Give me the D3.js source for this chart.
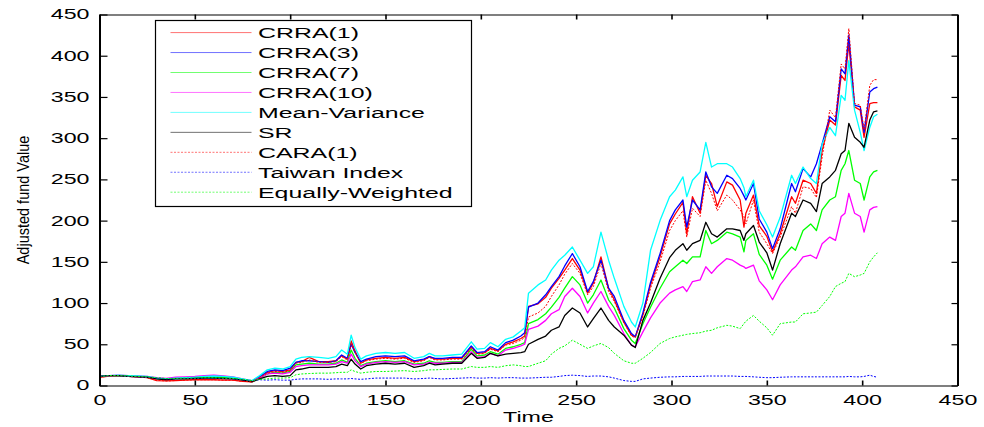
<!DOCTYPE html>
<html>
<head>
<meta charset="utf-8">
<script src="https://cdn.jsdelivr.net/npm/d3@7"></script>
<style>
  html, body { margin: 0; padding: 0; background: #fff; }
  svg { display: block; font-family: "Liberation Sans", Arial, sans-serif; }
</style>
</head>
<body>
<svg id="chart" width="984" height="427"></svg>
<script>
// Trading days (x positions of the samples)
const time = [
  0,5,10,15,20,25,30,35,40,45,50,55,60,65,70,75,80,
  84,88,92,96,100,103,106,110,115,120,124,
  127,130,132,134,137,140,
  145,150,155,160,165,170,173,176,180,185,190,195,198,202,205,209,213,217,221,223,
  225,230,234,237,241,244,248,252,256,259,
  263,267,270,275,279,281,285,289,294,299,
  302,306,308,311,315,318,321,324,329,332,
  336,338,339,343,346,350,353,357,363,365,
  369,373,376,379,383,386,389,391,393,396,
  399,401,404,406,408
];

// Adjusted fund value of each strategy
const crra1 = [
  10,11.5,12,11,10.5,9.5,6,5.5,6,6.5,7,7,7,6.5,6.5,5,4.5,
  10,16,18,17,19,28,29,34,29,29,30,
  36,32,54,42,27,31,
  33,34,33,34,29,31,35,32,32,33,33,47,39,40,45,42,50,53,57,60,
  96,99,107,118,130,140,154,140,112,124,
  156,118,104,77,61,59,86,122,156,196,
  208,222,184,229,209,255,245,217,247,243,
  225,192,209,231,194,181,162,184,229,221,
  249,245,233,285,322,316,376,370,415,338,
  334,301,342,343,343
];
const crra3 = [
  11,12,12,11.5,11,10.5,8.5,7.5,9,9,10,11,11,10.5,9.5,7.5,5.5,
  11,17,19,18,21,28,30,30,29,28,30,
  37,33,50,40,29,32,
  35,36,35,36,30,32,35,33,33,34,34,48,40,41,47,43,52,55,60,64,
  95,100,110,120,132,145,160,144,114,126,
  152,118,108,79,63,59,88,125,160,200,
  213,225,192,225,213,259,241,233,255,251,
  239,230,225,245,202,186,166,190,245,235,
  263,253,269,293,326,320,384,378,425,340,
  338,307,356,360,362
];
const crra7 = [
  11,12,12,11.5,11,10,8.5,7.5,8.5,8.5,9,9.5,10,9.5,9,7,5,
  9,14,16,15,17,25,26,27,26,26,27,
  31,28,43,33,24,27,
  29,30,29,30,26,27,30,28,28,29,29,44,36,37,41,38,45,47,50,52,
  75,80,87,95,107,118,132,122,100,110,
  128,104,94,69,55,51,75,95,118,138,
  144,152,148,156,156,188,172,176,186,184,
  180,162,176,184,159,146,129,152,168,164,
  188,196,188,213,225,229,261,269,285,249,
  245,225,253,259,261
];
const crra10 = [
  11,12,12.5,12,11.5,11,9.5,8.5,10,10.5,11,12,12.5,11.5,10.5,8,5.5,
  9,14,15,14,16,23,24,25,25,25,26,
  29,27,38,30,23,26,
  28,29,28,29,25,26,28,27,27,28,28,41,34,35,39,36,43,45,48,50,
  68,72,79,87,92,108,118,108,88,100,
  114,96,85,63,49,47,65,82,100,112,
  116,120,114,126,128,144,136,144,154,152,
  146,144,142,146,127,116,104,122,140,144,
  156,158,154,172,180,176,205,209,233,209,
  205,186,213,216,217
];
const meanVariance = [
  11,12,12.5,12,11.5,11,9,8,9,9.5,10,11,11.5,11,10,8,6,
  12,19,21,20,23,32,34,35,34,33,35,
  43,38,61,46,32,36,
  39,40,39,40,33,35,39,36,36,37,38,53,44,45,52,47,56,59,66,70,
  112,122,128,140,152,158,168,152,136,144,
  186,152,130,96,77,71,100,164,200,229,
  237,253,229,249,259,295,265,269,269,265,
  251,240,229,249,212,195,180,204,255,245,
  265,251,245,293,313,303,352,346,394,334,
  307,285,313,326,329
];
const sharpe = [
  11,12,12,11,10.5,10,8,7,8,8,8.5,9,9,8.5,8,6.5,4.5,
  8,11,12,11,12,19,20,22,22,22,23,
  26,24,32,26,20,24,
  26,27,26,27,22,24,27,25,26,27,27,39,33,34,39,36,38,39,40,41,
  50,56,60,67,71,85,94,88,71,81,
  94,79,71,61,49,46,79,100,130,155,
  164,172,164,172,176,198,184,180,190,190,
  188,176,184,194,174,161,140,172,209,205,
  225,221,211,245,253,261,281,285,318,301,
  295,289,322,332,333
];
const cara1 = [
  10,11.5,12,11,10.5,9.5,6.5,5.5,6,6.5,7,7,7,6.5,6.5,5,4.5,
  9.5,15,17,16,18,27,28,31,28,28,29,
  35,31,50,40,27,30,
  32,33,32,33,28,30,34,31,31,32,32,45,38,39,44,41,49,51,55,58,
  83,88,96,108,122,135,148,136,110,120,
  148,114,102,76,60,58,84,118,150,188,
  200,212,180,215,205,249,233,212,231,225,
  213,205,196,225,186,172,160,180,217,209,
  241,239,228,277,334,325,390,384,433,342,
  340,310,364,371,371
];
const taiwanIndex = [
  11,12,12,11,10.5,10,9,8,8,8.5,8.5,9,9,8.5,8,7,6,
  7,6.5,7,6.5,6.5,7.5,8,8,8,7.5,8,
  8,8,8.5,8,7.5,8,
  9,9,9,9,8,8.5,9,8.5,8,8.5,9,9.5,9,9,9.5,9,9.5,9.5,9,9,
  9,9.5,10,10,11,12,12.5,12,11,11.5,
  11.5,10.5,9,6,5,5,8,9,10,10.5,
  10.5,11,11,11,11,11.5,11.5,11.5,11.5,11.5,
  11,11,11,10.5,10,9.5,9.5,10,10.5,10.5,
  10.5,10.5,10.5,10.5,10.5,10.5,10.5,10.5,11,10.5,
  10.5,11,12.5,11,10
];
const equallyWeighted = [
  11,12,12,11.5,11,10.5,9.5,8.5,8.5,9,9,9.5,9.5,9,8.5,7.5,6,
  7.5,8,9,9,9.5,13,14,14.5,15,15,15.5,
  16,16,19,17,15,16,
  17,17,17.5,18,17,18,19,19,19.5,20,20,23,22,22,23,22,24,25,24,23,
  23,27,30,38,45,48,55,50,45,48,
  51,46,39,30,27,27,33,40,51,57,
  59,61,62,63,64,66,67,70,73,72,
  69,75,78,85,78,70,61,75,77,77,
  87,88,89,97,108,120,124,126,136,132,
  134,136,150,156,161
];

const seriesNames = ["CRRA(1)", "CRRA(3)", "CRRA(7)", "CRRA(10)", "Mean-Variance",
                     "SR", "CARA(1)", "Taiwan Index", "Equally-Weighted"];
const xTicks = [0, 50, 100, 150, 200, 250, 300, 350, 400, 450];
const yTicks = [0, 50, 100, 150, 200, 250, 300, 350, 400, 450];

const series = [
  { name: seriesNames[0], values: crra1,           color: "#ff0000", dotted: false },
  { name: seriesNames[1], values: crra3,           color: "#0000ff", dotted: false },
  { name: seriesNames[2], values: crra7,           color: "#00ff00", dotted: false },
  { name: seriesNames[3], values: crra10,          color: "#ff00ff", dotted: false },
  { name: seriesNames[4], values: meanVariance,    color: "#00ffff", dotted: false },
  { name: seriesNames[5], values: sharpe,          color: "#000000", dotted: false },
  { name: seriesNames[6], values: cara1,           color: "#ff0000", dotted: true },
  { name: seriesNames[7], values: taiwanIndex,     color: "#0000ff", dotted: true },
  { name: seriesNames[8], values: equallyWeighted, color: "#00ff00", dotted: true }
];

// Layout
const X0 = 99.5, X1 = 957.5, Y0 = 385.5, Y1 = 14.5;
const SX = 1.66;          // horizontal stretch applied to the lettering
const DOTS = "2,1.5";

const svg = d3.select("#chart");
svg.append("rect").attr("width", 984).attr("height", 427).attr("fill", "#fff");

const x = d3.scaleLinear().domain([0, 450]).range([X0, X1]);
const y = d3.scaleLinear().domain([0, 450]).range([Y0, Y1]);

// Data lines
const line = d3.line()
  .defined((d, i) => time[i] !== undefined && d !== undefined)
  .x((d, i) => x(time[i]))
  .y(d => y(d));

svg.append("g").selectAll("path")
  .data(series)
  .join("path")
  .attr("fill", "none")
  .attr("stroke", d => d.color)
  .attr("stroke-width", d => d.dotted ? 1 : 1.3)
  .attr("stroke-dasharray", d => d.dotted ? DOTS : null)
  .attr("stroke-linejoin", "round")
  .attr("d", d => line(d.values));

// Stretch a text element horizontally about its own x anchor
function stretch(sel) {
  sel.each(function () {
    const t = d3.select(this);
    const tx = +t.attr("x") || 0;
    t.attr("transform", `translate(${tx},0) scale(${SX},1) translate(${-tx},0)`);
  });
}

function styleAxis(g, vertical) {
  g.attr("font-family", null).attr("font-size", 14);
  g.select(".domain").attr("stroke", "#000").attr("stroke-width", vertical ? 2 : 1.2);
  g.selectAll(".tick line").attr("stroke", "#000").attr("stroke-width", vertical ? 1.2 : 1.6);
  g.selectAll(".tick text").attr("fill", "#000");
}

// Axes with inward ticks on all four sides
const gLeft = svg.append("g").attr("transform", `translate(${X0},0)`)
  .call(d3.axisLeft(y).tickValues(yTicks).tickSize(-8).tickSizeOuter(0).tickPadding(10));
styleAxis(gLeft, true);
gLeft.selectAll(".tick text").call(stretch);

const gBottom = svg.append("g").attr("transform", `translate(0,${Y0})`)
  .call(d3.axisBottom(x).tickValues(xTicks).tickSize(-5).tickSizeOuter(0).tickPadding(9.5));
styleAxis(gBottom, false);
gBottom.selectAll(".tick text").call(stretch);

const gTop = svg.append("g").attr("transform", `translate(0,${Y1})`)
  .call(d3.axisTop(x).tickValues(xTicks).tickSize(-5).tickSizeOuter(0).tickFormat(""));
styleAxis(gTop, false);

const gRight = svg.append("g").attr("transform", `translate(${X1},0)`)
  .call(d3.axisRight(y).tickValues(yTicks).tickSize(-6).tickSizeOuter(0).tickFormat(""));
styleAxis(gRight, true);

// Axis titles
svg.append("text")
  .attr("transform", `translate(${(X0 + X1) / 2},421.5) scale(${SX},1)`)
  .attr("text-anchor", "middle")
  .attr("font-size", 14)
  .attr("fill", "#000")
  .text("Time");

svg.append("text")
  .attr("transform", `translate(29,${(Y0 + Y1) / 2}) scale(1.2,1) rotate(-90)`)
  .attr("text-anchor", "middle")
  .attr("font-size", 14.5)
  .attr("fill", "#000")
  .text("Adjusted fund Value");

// Legend
const legend = svg.append("g");
legend.append("rect")
  .attr("x", 155.5).attr("y", 20.5)
  .attr("width", 316).attr("height", 186)
  .attr("fill", "#fff")
  .attr("stroke", "#000")
  .attr("stroke-width", 1.2);

const rows = legend.selectAll("g.row")
  .data(series)
  .join("g")
  .attr("class", "row")
  .attr("transform", (d, i) => `translate(0,${32.6 + i * 19.95})`);

rows.append("line")
  .attr("x1", 170.5).attr("x2", 251.5)
  .attr("y1", 0).attr("y2", 0)
  .attr("stroke", d => d.color)
  .attr("stroke-opacity", 0.7)
  .attr("stroke-width", 0.8)
  .attr("stroke-dasharray", d => d.dotted ? DOTS : null);

rows.append("text")
  .attr("transform", `translate(258,5.5) scale(${SX},1)`)
  .attr("font-size", 15)
  .attr("fill", "#000")
  .text(d => d.name);
</script>
</body>
</html>
